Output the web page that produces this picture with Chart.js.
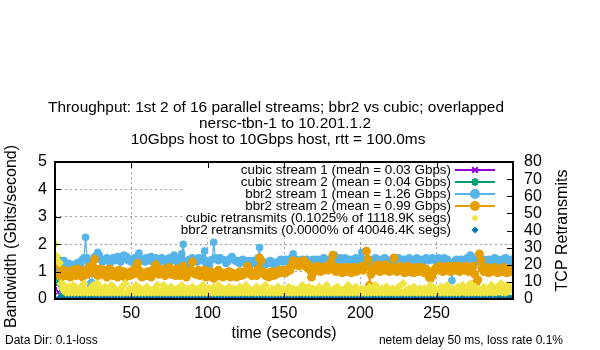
<!DOCTYPE html>
<html>
<head>
<meta charset="utf-8">
<script src="https://cdn.jsdelivr.net/npm/chart.js@4.4.0/dist/chart.umd.min.js"></script>
<style>
    html, body { margin: 0; padding: 0; background: #fff; }
    #wrap { width: 600px; height: 350px; position: relative; }
</style>
</head>
<body>
<div id="wrap"><canvas id="tputChart"></canvas></div>
<script>
const titleLines = [
    'Throughput: 1st 2 of 16 parallel streams; bbr2 vs cubic; overlapped',
    'nersc-tbn-1 to 10.201.1.2',
    '10Gbps host to 10Gbps host, rtt = 100.0ms'
];
const leftAxisTitle = 'Bandwidth (Gbits/second)';
const rightAxisTitle = 'TCP Retransmits';
const xAxisTitle = 'time (seconds)';
const dataDirNote = 'Data Dir: 0.1-loss';
const netemNote = 'netem delay 50 ms, loss rate 0.1%';

const seriesLabels = [
    'cubic stream 1 (mean = 0.03 Gbps)',
    'cubic stream 2 (mean = 0.04 Gbps)',
    'bbr2 stream 1 (mean = 1.26 Gbps)',
    'bbr2 stream 2 (mean = 0.99 Gbps)',
    'cubic retransmits (0.1025% of 1118.9K segs)',
    'bbr2 retransmits (0.0000% of 40046.4K segs)'
];

// seconds, every 2 s (cubic streams, bbr2 retransmits)
const coarseTimes = [
    0, 2, 4, 6, 8, 10, 12, 14, 16, 18, 20, 22, 24, 26, 28, 30, 32, 34, 36, 38,
    40, 42, 44, 46, 48, 50, 52, 54, 56, 58, 60, 62, 64, 66, 68, 70, 72, 74, 76, 78,
    80, 82, 84, 86, 88, 90, 92, 94, 96, 98, 100, 102, 104, 106, 108, 110, 112, 114, 116, 118,
    120, 122, 124, 126, 128, 130, 132, 134, 136, 138, 140, 142, 144, 146, 148, 150, 152, 154, 156, 158,
    160, 162, 164, 166, 168, 170, 172, 174, 176, 178, 180, 182, 184, 186, 188, 190, 192, 194, 196, 198,
    200, 202, 204, 206, 208, 210, 212, 214, 216, 218, 220, 222, 224, 226, 228, 230, 232, 234, 236, 238,
    240, 242, 244, 246, 248, 250, 252, 254, 256, 258, 260, 262, 264, 266, 268, 270, 272, 274, 276, 278,
    280, 282, 284, 286, 288, 290, 292, 294, 296, 298
];

// seconds, every 1 s (bbr2 streams, cubic retransmits)
const fineTimes = [
    0, 1, 2, 3, 4, 5, 6, 7, 8, 9, 10, 11, 12, 13, 14, 15, 16, 17, 18, 19,
    20, 21, 22, 23, 24, 25, 26, 27, 28, 29, 30, 31, 32, 33, 34, 35, 36, 37, 38, 39,
    40, 41, 42, 43, 44, 45, 46, 47, 48, 49, 50, 51, 52, 53, 54, 55, 56, 57, 58, 59,
    60, 61, 62, 63, 64, 65, 66, 67, 68, 69, 70, 71, 72, 73, 74, 75, 76, 77, 78, 79,
    80, 81, 82, 83, 84, 85, 86, 87, 88, 89, 90, 91, 92, 93, 94, 95, 96, 97, 98, 99,
    100, 101, 102, 103, 104, 105, 106, 107, 108, 109, 110, 111, 112, 113, 114, 115, 116, 117, 118, 119,
    120, 121, 122, 123, 124, 125, 126, 127, 128, 129, 130, 131, 132, 133, 134, 135, 136, 137, 138, 139,
    140, 141, 142, 143, 144, 145, 146, 147, 148, 149, 150, 151, 152, 153, 154, 155, 156, 157, 158, 159,
    160, 161, 162, 163, 164, 165, 166, 167, 168, 169, 170, 171, 172, 173, 174, 175, 176, 177, 178, 179,
    180, 181, 182, 183, 184, 185, 186, 187, 188, 189, 190, 191, 192, 193, 194, 195, 196, 197, 198, 199,
    200, 201, 202, 203, 204, 205, 206, 207, 208, 209, 210, 211, 212, 213, 214, 215, 216, 217, 218, 219,
    220, 221, 222, 223, 224, 225, 226, 227, 228, 229, 230, 231, 232, 233, 234, 235, 236, 237, 238, 239,
    240, 241, 242, 243, 244, 245, 246, 247, 248, 249, 250, 251, 252, 253, 254, 255, 256, 257, 258, 259,
    260, 261, 262, 263, 264, 265, 266, 267, 268, 269, 270, 271, 272, 273, 274, 275, 276, 277, 278, 279,
    280, 281, 282, 283, 284, 285, 286, 287, 288, 289, 290, 291, 292, 293, 294, 295, 296, 297, 298, 299
];

// Gbps
const cubicStream1 = [
    0.45, 0.25, 0.04, 0.02, 0.01, 0.03, 0.02, 0.00, 0.02, 0.03,
    0.01, 0.02, 0.04, 0.02, 0.01, 0.00, 0.03, 0.02, 0.01, 0.02,
    0.03, 0.01, 0.02, 0.00, 0.02, 0.03, 0.01, 0.02, 0.04, 0.01,
    0.02, 0.00, 0.01, 0.03, 0.02, 0.01, 0.02, 0.00, 0.03, 0.02,
    0.01, 0.02, 0.03, 0.01, 0.00, 0.02, 0.04, 0.01, 0.02, 0.03,
    0.00, 0.02, 0.01, 0.03, 0.02, 0.01, 0.00, 0.02, 0.03, 0.01,
    0.02, 0.03, 0.01, 0.00, 0.02, 0.04, 0.01, 0.02, 0.00, 0.03,
    0.01, 0.02, 0.03, 0.01, 0.02, 0.00, 0.02, 0.03, 0.01, 0.02,
    0.03, 0.00, 0.02, 0.01, 0.03, 0.02, 0.00, 0.01, 0.02, 0.04,
    0.01, 0.02, 0.00, 0.03, 0.01, 0.02, 0.03, 0.00, 0.02, 0.01,
    0.02, 0.03, 0.01, 0.02, 0.00, 0.01, 0.03, 0.02, 0.01, 0.02,
    0.00, 0.02, 0.03, 0.01, 0.02, 0.04, 0.00, 0.01, 0.02, 0.03,
    0.01, 0.00, 0.02, 0.03, 0.01, 0.02, 0.00, 0.03, 0.02, 0.01,
    0.02, 0.01, 0.03, 0.00, 0.02, 0.01, 0.02, 0.03, 0.00, 0.02,
    0.03, 0.01, 0.02, 0.00, 0.01, 0.02, 0.03, 0.01, 0.02, 0.05
];
const cubicStream2 = [
    0.85, 0.60, 0.12, 0.08, 0.05, 0.10, 0.06, 0.04, 0.07, 0.05,
    0.04, 0.06, 0.09, 0.05, 0.03, 0.07, 0.05, 0.04, 0.06, 0.08,
    0.05, 0.03, 0.06, 0.04, 0.07, 0.05, 0.03, 0.06, 0.12, 0.04,
    0.05, 0.03, 0.04, 0.06, 0.05, 0.03, 0.07, 0.04, 0.05, 0.06,
    0.04, 0.05, 0.03, 0.06, 0.04, 0.05, 0.16, 0.04, 0.03, 0.05,
    0.06, 0.04, 0.05, 0.03, 0.05, 0.04, 0.06, 0.03, 0.05, 0.04,
    0.03, 0.05, 0.04, 0.06, 0.03, 0.05, 0.04, 0.05, 0.03, 0.06,
    0.04, 0.03, 0.05, 0.04, 0.06, 0.03, 0.14, 0.04, 0.05, 0.03,
    0.05, 0.04, 0.03, 0.06, 0.04, 0.05, 0.03, 0.04, 0.06, 0.05,
    0.04, 0.05, 0.03, 0.04, 0.06, 0.12, 0.04, 0.05, 0.03, 0.04,
    0.05, 0.03, 0.04, 0.06, 0.04, 0.05, 0.03, 0.05, 0.04, 0.06,
    0.03, 0.05, 0.04, 0.03, 0.05, 0.04, 0.06, 0.03, 0.05, 0.04,
    0.05, 0.04, 0.06, 0.03, 0.04, 0.05, 0.03, 0.04, 0.06, 0.05,
    0.04, 0.03, 0.05, 0.04, 0.13, 0.05, 0.03, 0.04, 0.05, 0.03,
    0.04, 0.05, 0.03, 0.06, 0.04, 0.05, 0.03, 0.04, 0.05, 0.06
];
const bbr2Stream1 = [
    1.00, 1.05, 1.15, 1.30, 1.40, 1.35, 1.40, 1.25, 1.20, 1.30,
    1.20, 1.15, 1.25, 1.20, 1.30, 1.25, 1.35, 1.30, 1.45, 1.50,
    2.25, 1.50, 1.35, 0.55, 0.60, 1.40, 1.55, 1.50, 1.70, 1.60,
    1.45, 1.35, 1.40, 1.45, 1.50, 1.40, 1.30, 1.45, 1.50, 1.40,
    1.45, 1.55, 1.50, 1.35, 1.45, 1.60, 1.50, 1.55, 1.40, 1.45,
    1.35, 1.45, 1.50, 1.40, 1.55, 1.68, 1.50, 1.40, 1.45, 1.35,
    1.50, 1.40, 1.45, 1.55, 1.35, 1.45, 1.50, 1.40, 1.35, 1.45,
    1.50, 1.40, 1.45, 1.35, 1.40, 1.50, 1.45, 1.40, 1.60, 1.45,
    1.35, 1.45, 1.50, 1.65, 2.00, 1.40, 0.95, 1.30, 1.45, 1.40,
    1.50, 1.45, 1.40, 1.35, 1.50, 1.45, 1.40, 1.50, 1.75, 1.30,
    0.85, 1.20, 1.40, 1.45, 2.07, 1.50, 1.45, 1.40, 1.50, 1.45,
    1.45, 1.40, 1.30, 1.35, 1.45, 1.50, 1.55, 1.45, 1.40, 1.35,
    1.40, 1.30, 1.35, 1.45, 1.40, 1.30, 1.35, 1.40, 1.25, 1.35,
    1.40, 1.30, 1.35, 1.50, 1.88, 1.40, 1.30, 1.35, 1.25, 1.30,
    1.35, 1.40, 1.30, 1.35, 1.25, 1.30, 1.35, 1.40, 1.45, 1.35,
    1.40, 1.45, 1.35, 1.40, 1.45, 1.50, 1.65, 1.40, 1.45, 1.35,
    1.40, 1.35, 1.45, 1.40, 1.35, 1.45, 1.30, 1.40, 1.35, 1.45,
    1.40, 1.35, 1.45, 1.40, 1.35, 1.45, 1.50, 1.40, 1.35, 1.45,
    1.40, 1.45, 1.50, 1.60, 1.45, 1.40, 1.45, 1.50, 1.40, 1.45,
    1.50, 1.45, 1.40, 1.45, 1.35, 1.40, 1.45, 1.50, 1.45, 1.40,
    1.50, 1.70, 1.45, 1.40, 1.35, 1.45, 1.40, 1.35, 1.45, 1.40,
    1.50, 1.45, 1.40, 1.35, 1.45, 1.40, 1.50, 1.45, 1.40, 1.35,
    1.40, 1.45, 1.35, 1.40, 1.45, 1.50, 1.40, 1.35, 1.45, 1.40,
    1.45, 1.40, 1.50, 1.45, 1.40, 1.35, 1.45, 1.50, 1.40, 1.45,
    1.40, 1.35, 1.45, 1.50, 1.45, 1.40, 1.45, 1.50, 1.45, 1.40,
    1.45, 1.50, 1.45, 1.40, 1.45, 1.50, 1.40, 1.45, 1.35, 1.20,
    0.67, 1.10, 1.40, 1.45, 1.40, 1.35, 1.45, 1.40, 1.35, 1.45,
    1.50, 1.45, 1.60, 1.55, 1.45, 1.40, 1.35, 1.40, 1.45, 1.40,
    1.35, 1.45, 1.40, 1.35, 1.45, 1.40, 1.35, 1.45, 1.50, 1.40,
    1.45, 1.40, 1.35, 1.45, 1.40, 1.50, 1.45, 1.40, 1.35, 1.45
];
const bbr2Stream2 = [
    1.30, 1.35, 1.25, 0.90, 0.80, 0.95, 1.05, 0.85, 0.95, 1.00,
    0.80, 0.90, 1.05, 0.95, 0.85, 1.10, 0.90, 1.00, 0.80, 0.95,
    1.05, 0.90, 1.15, 1.00, 1.20, 0.95, 1.45, 1.10, 0.85, 1.00,
    1.10, 0.90, 0.95, 1.05, 0.80, 1.00, 1.10, 0.90, 0.85, 1.00,
    0.95, 0.80, 1.05, 0.90, 0.85, 1.00, 0.80, 0.95, 0.90, 0.85,
    1.00, 0.90, 1.10, 0.95, 1.30, 1.05, 0.85, 0.80, 0.95, 0.90,
    0.85, 1.00, 0.90, 0.80, 1.05, 0.95, 1.25, 1.00, 0.90, 1.05,
    0.95, 1.10, 0.85, 1.05, 1.00, 1.15, 0.90, 1.05, 1.00, 0.85,
    1.10, 0.95, 0.85, 1.05, 1.20, 0.90, 0.80, 1.00, 0.95, 1.05,
    1.35, 1.00, 0.90, 0.95, 1.05, 0.85, 0.90, 1.00, 1.05, 0.80,
    0.85, 0.95, 1.00, 0.80, 0.75, 0.90, 0.95, 1.05, 0.85, 0.90,
    0.80, 0.95, 0.85, 0.90, 1.00, 0.80, 0.95, 0.85, 0.90, 0.80,
    0.90, 1.00, 0.85, 0.95, 0.90, 1.00, 1.20, 1.05, 0.95, 0.85,
    0.90, 0.95, 0.85, 1.10, 1.50, 1.40, 1.00, 0.90, 0.85, 0.95,
    0.80, 0.90, 1.00, 0.85, 0.95, 0.90, 1.00, 1.05, 0.95, 1.00,
    1.05, 0.95, 1.00, 1.10, 1.05, 1.20, 1.40, 1.30, 1.25, 1.35,
    1.20, 1.30, 1.25, 1.40, 1.30, 1.15, 1.25, 1.05, 0.80, 0.95,
    1.15, 1.05, 1.20, 1.10, 1.00, 1.15, 1.05, 1.10, 1.20, 1.05,
    1.15, 1.35, 1.60, 1.10, 1.00, 1.15, 1.05, 1.10, 0.95, 1.15,
    1.05, 1.00, 1.15, 1.10, 0.95, 1.05, 1.15, 1.00, 1.10, 1.05,
    1.10, 1.20, 1.05, 1.15, 1.75, 1.45, 0.50, 0.90, 1.10, 1.20,
    1.05, 1.15, 1.25, 1.00, 1.10, 1.20, 1.05, 1.25, 1.10, 1.00,
    1.15, 1.05, 1.50, 1.10, 1.00, 1.15, 1.20, 1.05, 1.10, 0.95,
    1.10, 1.20, 1.00, 1.15, 1.05, 0.95, 1.10, 1.15, 1.00, 1.05,
    1.15, 1.05, 0.95, 1.10, 1.00, 0.80, 0.75, 0.85, 1.00, 1.10,
    1.15, 1.05, 1.20, 1.10, 1.00, 1.15, 1.05, 1.20, 1.10, 1.00,
    1.15, 1.20, 1.05, 1.10, 1.20, 1.00, 1.15, 1.10, 1.05, 1.20,
    1.10, 1.00, 1.15, 1.05, 1.20, 0.90, 0.60, 0.70, 1.65, 1.40,
    1.10, 1.00, 1.05, 1.15, 0.95, 1.10, 1.00, 1.05, 1.15, 1.00,
    0.95, 1.10, 1.05, 1.00, 1.15, 1.05, 0.95, 1.10, 1.05, 1.00
];

// retransmits per second (right axis)
const cubicRetrans = [
    32, 25, 22, 21, 9, 6, 8, 4, 3, 7,
    3, 5, 8, 3, 6, 3, 4, 7, 3, 9,
    5, 3, 3, 6, 4, 8, 3, 5, 9, 3,
    6, 3, 4, 7, 3, 5, 3, 8, 3, 6,
    4, 3, 5, 3, 7, 3, 9, 4, 3, 6,
    3, 5, 3, 8, 4, 3, 6, 3, 5, 3,
    7, 4, 3, 5, 3, 6, 3, 8, 4, 3,
    5, 8, 3, 6, 3, 4, 7, 3, 5, 3,
    6, 3, 4, 8, 3, 5, 3, 6, 4, 3,
    7, 3, 5, 3, 6, 4, 3, 8, 3, 5,
    3, 6, 4, 3, 7, 3, 5, 8, 3, 4,
    6, 3, 5, 3, 7, 3, 4, 6, 3, 5,
    3, 7, 4, 3, 5, 8, 3, 6, 3, 4,
    5, 3, 7, 3, 4, 6, 3, 5, 8, 3,
    4, 3, 6, 3, 5, 3, 7, 4, 3, 6,
    3, 5, 3, 7, 4, 3, 6, 3, 5, 3,
    6, 4, 8, 3, 5, 3, 7, 3, 4, 6,
    3, 5, 3, 7, 4, 3, 6, 3, 8, 3,
    5, 4, 3, 6, 3, 7, 3, 5, 4, 3,
    6, 3, 8, 3, 5, 4, 3, 7, 3, 5,
    3, 6, 4, 3, 5, 3, 7, 3, 6, 4,
    8, 3, 5, 3, 6, 4, 3, 7, 3, 5,
    4, 6, 3, 5, 3, 7, 3, 4, 9, 3,
    5, 3, 6, 3, 4, 7, 3, 5, 3, 6,
    3, 4, 6, 3, 5, 3, 8, 4, 3, 6,
    3, 5, 3, 7, 4, 6, 3, 8, 3, 5,
    3, 6, 4, 3, 7, 3, 5, 8, 4, 3,
    6, 3, 9, 5, 3, 7, 4, 6, 3, 5,
    3, 7, 4, 3, 6, 5, 8, 3, 6, 4,
    7, 5, 9, 4, 6, 3, 8, 5, 7, 6
];
const bbr2Retrans = [
    0, 0, 0, 0, 0, 0, 0, 0, 0, 0, 0, 0, 0, 0, 0, 0, 0, 0, 0, 0, 0, 0, 0, 0, 0, 0, 0, 0, 0, 0,
    0, 0, 0, 0, 0, 0, 0, 0, 0, 0, 0, 0, 0, 0, 0, 0, 0, 0, 0, 0, 0, 0, 0, 0, 0, 0, 0, 0, 0, 0,
    0, 0, 0, 0, 0, 0, 0, 0, 0, 0, 0, 0, 0, 0, 0, 0, 0, 0, 0, 0, 0, 0, 0, 0, 0, 0, 0, 0, 0, 0,
    0, 0, 0, 0, 0, 0, 0, 0, 0, 0, 0, 0, 0, 0, 0, 0, 0, 0, 0, 0, 0, 0, 0, 0, 0, 0, 0, 0, 0, 0,
    0, 0, 0, 0, 0, 0, 0, 0, 0, 0, 0, 0, 0, 0, 0, 0, 0, 0, 0, 0, 0, 0, 0, 0, 0, 0, 0, 0, 0, 0
];

const fontFamily = '"Liberation Sans", Arial, sans-serif';
const gridGrey = '#a0a0a0';

function toPoints(values, ts) {
    return ts.map((t, i) => ({x: t, y: values[i]}));
}

function lineSet(label, values, ts, color, style, radius, order) {
    return {
        label: label,
        data: toPoints(values, ts),
        borderColor: color,
        backgroundColor: color,
        borderWidth: 1.2,
        pointStyle: style,
        pointRadius: radius,
        pointBorderWidth: 1.2,
        tension: 0,
        yAxisID: 'y',
        order: order
    };
}

function retransSet(label, values, ts, color, radius, order) {
    return {
        label: label,
        data: toPoints(values, ts),
        borderColor: color,
        backgroundColor: color,
        showLine: false,
        pointStyle: 'rectRot',
        pointRadius: radius,
        pointBorderWidth: 0,
        yAxisID: 'y2',
        order: order
    };
}

const datasets = [
    lineSet(seriesLabels[0], cubicStream1, coarseTimes, '#9400d3', 'crossRot', 3, 6),
    lineSet(seriesLabels[1], cubicStream2, coarseTimes, '#009e73', 'star', 3, 5),
    lineSet(seriesLabels[2], bbr2Stream1, fineTimes, '#56b4e9', 'circle', 3.2, 4),
    lineSet(seriesLabels[3], bbr2Stream2, fineTimes, '#e69f00', 'circle', 3.8, 3),
    retransSet(seriesLabels[4], cubicRetrans, fineTimes, '#f0e442', 4.5, 2),
    retransSet(seriesLabels[5], bbr2Retrans, coarseTimes, '#0072b2', 3.5, 1)
];

function rotatedText(ctx, text, x, y) {
    ctx.save();
    ctx.translate(x, y);
    ctx.rotate(-Math.PI / 2);
    ctx.fillText(text, 0, 0);
    ctx.restore();
}

// gnuplot-ish decorations: title block, boxed key, inward ticks, axis labels, notes
const gnuplotFrame = {
    id: 'gnuplotFrame',
    afterDraw(chart) {
        const ctx = chart.ctx;
        const area = chart.chartArea;
        const midX = (area.left + area.right) / 2;
        const midY = (area.top + area.bottom) / 2;
        ctx.save();

        // title (gnuplot centres each line a little differently)
        const titleShift = [-8, 1, -6];
        ctx.fillStyle = '#000';
        ctx.font = '15.4px ' + fontFamily;
        ctx.textAlign = 'center';
        ctx.textBaseline = 'middle';
        titleLines.forEach((line, i) => {
            ctx.fillText(line, midX + titleShift[i], area.top - 54 + i * 16);
        });

        // opaque key
        const keyRight = area.right - 18;
        const rowH = 12;
        ctx.fillStyle = '#fff';
        ctx.fillRect(area.left + 128, area.top + 1, area.right - area.left - 129, rowH * 6 + 3);
        ctx.font = '13.4px ' + fontFamily;
        ctx.textAlign = 'right';
        chart.data.datasets.forEach((ds, i) => {
            const y = area.top + 8 + i * rowH;
            const textX = keyRight - 44;
            ctx.fillStyle = '#000';
            ctx.fillText(ds.label, textX, y);
            const sampleL = textX + 4, sampleR = textX + 44, sampleM = (sampleL + sampleR) / 2;
            ctx.strokeStyle = ds.borderColor;
            ctx.fillStyle = ds.backgroundColor;
            if (ds.showLine !== false) {
                ctx.lineWidth = 2;
                ctx.beginPath();
                ctx.moveTo(sampleL, y);
                ctx.lineTo(sampleR, y);
                ctx.stroke();
            }
            ctx.lineWidth = 2;
            Chart.helpers.drawPoint(ctx, {
                pointStyle: ds.pointStyle,
                radius: ds.showLine === false ? 3.5 : 4,
                rotation: 0,
                borderWidth: ds.showLine === false ? 0 : 2
            }, sampleM, y);
        });

        // inward ticks
        const xs = chart.scales.x, ys = chart.scales.y, y2s = chart.scales.y2;
        ctx.strokeStyle = '#000';
        ctx.lineWidth = 1;
        ctx.beginPath();
        xs.ticks.forEach(t => {
            const px = Math.round(xs.getPixelForValue(t.value)) + 0.5;
            ctx.moveTo(px, area.bottom); ctx.lineTo(px, area.bottom - 6);
            ctx.moveTo(px, area.top); ctx.lineTo(px, area.top + 6);
        });
        ys.ticks.forEach(t => {
            const py = Math.round(ys.getPixelForValue(t.value)) + 0.5;
            ctx.moveTo(area.left, py); ctx.lineTo(area.left + 6, py);
        });
        y2s.ticks.forEach(t => {
            const py = Math.round(y2s.getPixelForValue(t.value)) + 0.5;
            ctx.moveTo(area.right, py); ctx.lineTo(area.right - 6, py);
        });
        ctx.stroke();

        // border
        ctx.lineWidth = 2;
        ctx.strokeRect(area.left, area.top, area.right - area.left, area.bottom - area.top);

        // axis titles, both reading bottom to top like gnuplot
        ctx.fillStyle = '#000';
        ctx.font = '16px ' + fontFamily;
        ctx.textAlign = 'center';
        rotatedText(ctx, leftAxisTitle, 12, midY + 6);
        rotatedText(ctx, rightAxisTitle, area.right + 50, midY);

        // notes under the plot
        ctx.font = '12px ' + fontFamily;
        ctx.textAlign = 'left';
        ctx.fillText(dataDirNote, 5, chart.height - 9);
        ctx.textAlign = 'right';
        ctx.fillText(netemNote, 563, chart.height - 9);
        ctx.restore();
    }
};

const tickFont = {family: fontFamily, size: 16};

const chart = new Chart(document.getElementById('tputChart'), {
    type: 'line',
    data: {
        datasets: datasets
    },
    options: {
        responsive: true,
        maintainAspectRatio: false,
        animation: false,
        layout: {
            padding: {top: 162, left: 0, right: 0, bottom: 0}
        },
        scales: {
            x: {
                type: 'linear',
                min: 0,
                max: 300,
                afterFit: (scale) => { scale.height = 51; },
                ticks: {
                    stepSize: 50,
                    color: '#000',
                    font: tickFont,
                    padding: 5,
                    maxRotation: 0,
                    callback: (value) => (value === 0 || value === 300) ? '' : value
                },
                grid: {
                    color: gridGrey,
                    lineWidth: 1,
                    drawTicks: false
                },
                border: {
                    display: false,
                    dash: [2, 3]
                },
                title: {
                    display: true,
                    text: xAxisTitle,
                    color: '#000',
                    font: tickFont,
                    padding: {top: 0, bottom: 7}
                }
            },
            y: {
                position: 'left',
                min: 0,
                max: 5,
                afterFit: (scale) => { scale.width = 55; },
                ticks: {
                    stepSize: 1,
                    color: '#000',
                    font: tickFont,
                    padding: 8
                },
                grid: {
                    color: gridGrey,
                    lineWidth: 1,
                    drawTicks: false
                },
                border: {
                    display: false,
                    dash: [2, 3]
                }
            },
            y2: {
                position: 'right',
                min: 0,
                max: 80,
                afterFit: (scale) => { scale.width = 87; },
                ticks: {
                    stepSize: 10,
                    autoSkip: false,
                    color: '#000',
                    font: tickFont,
                    padding: 11
                },
                grid: {
                    drawOnChartArea: false,
                    drawTicks: false
                },
                border: {
                    display: false
                }
            }
        },
        plugins: {
            legend: {
                display: false
            },
            title: {
                display: false
            },
            tooltip: {
                enabled: false
            }
        }
    },
    plugins: [gnuplotFrame]
});
</script>
</body>
</html>
